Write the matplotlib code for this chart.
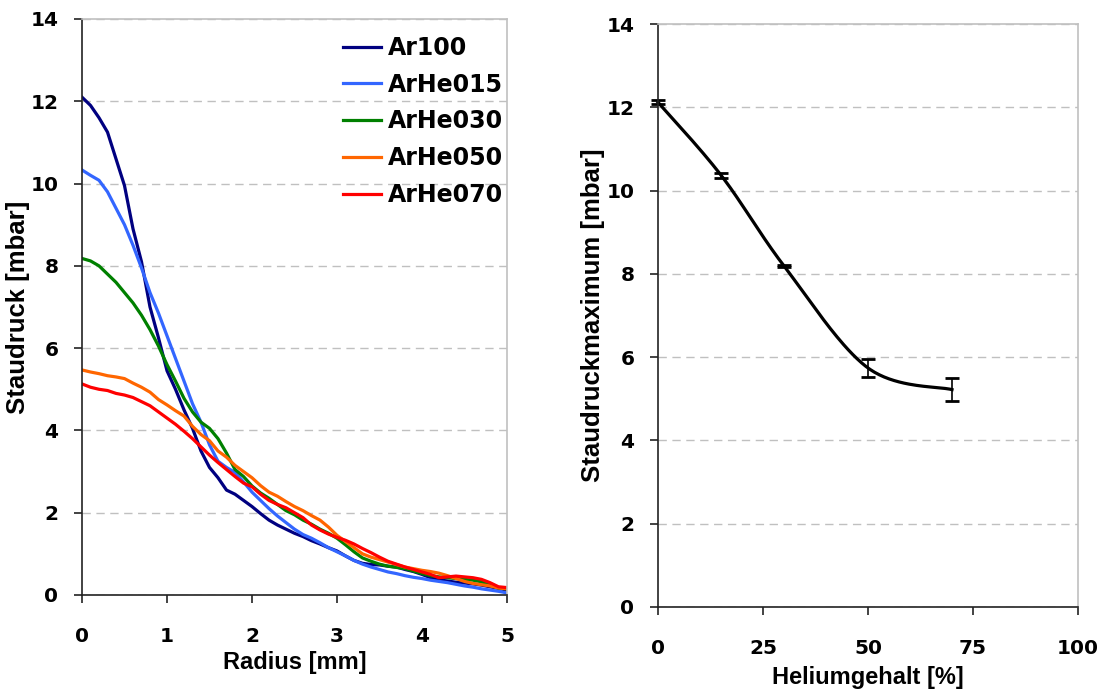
import numpy as np
import matplotlib as mpl
import matplotlib.pyplot as plt

mpl.rcParams['font.family'] = ['Liberation Sans', 'DejaVu Sans']

# left panel: pressure profiles over radius
radius = np.round(np.arange(0, 5.01, 0.1), 1)
ar100 = [12.1, 11.9, 11.6, 11.25, 10.6, 9.95, 8.9, 8.1, 7.0, 6.25,
         5.45, 5.0, 4.5, 4.05, 3.5, 3.1, 2.85, 2.55, 2.45, 2.3,
         2.15, 1.98, 1.82, 1.7, 1.6, 1.5, 1.42, 1.32, 1.24, 1.15,
         1.07, 0.95, 0.84, 0.77, 0.74, 0.73, 0.7, 0.68, 0.62, 0.57,
         0.5, 0.42, 0.37, 0.34, 0.31, 0.29, 0.27, 0.24, 0.2, 0.16, 0.12]
arhe015 = [10.33, 10.2, 10.08, 9.8, 9.4, 9.0, 8.5, 7.95, 7.35, 6.85,
           6.3, 5.75, 5.2, 4.65, 4.2, 3.65, 3.25, 3.1, 2.98, 2.75,
           2.5, 2.3, 2.1, 1.92, 1.76, 1.6, 1.47, 1.38, 1.27, 1.15,
           1.05, 0.95, 0.84, 0.75, 0.68, 0.62, 0.56, 0.52, 0.47, 0.43,
           0.4, 0.36, 0.33, 0.3, 0.26, 0.22, 0.19, 0.15, 0.12, 0.09, 0.05]
arhe030 = [8.18, 8.12, 8.0, 7.8, 7.6, 7.35, 7.1, 6.8, 6.45, 6.05,
           5.6, 5.2, 4.78, 4.45, 4.2, 4.05, 3.8, 3.45, 3.05, 2.88,
           2.65, 2.48, 2.35, 2.2, 2.05, 1.95, 1.82, 1.72, 1.6, 1.5,
           1.38, 1.22, 1.05, 0.9, 0.82, 0.75, 0.7, 0.67, 0.64, 0.58,
           0.52, 0.47, 0.44, 0.42, 0.4, 0.38, 0.36, 0.32, 0.25, 0.17, 0.15]
arhe050 = [5.47, 5.42, 5.38, 5.33, 5.3, 5.26, 5.15, 5.05, 4.93, 4.75,
           4.62, 4.48, 4.35, 4.1, 3.9, 3.75, 3.5, 3.35, 3.15, 3.0,
           2.85, 2.66, 2.5, 2.4, 2.27, 2.15, 2.05, 1.93, 1.82, 1.65,
           1.45, 1.3, 1.15, 1.0, 0.92, 0.86, 0.8, 0.74, 0.68, 0.64,
           0.6, 0.57, 0.53, 0.47, 0.4, 0.33, 0.28, 0.25, 0.22, 0.17, 0.15]
arhe070 = [5.13, 5.05, 5.0, 4.97, 4.9, 4.86, 4.8, 4.7, 4.6, 4.45,
           4.3, 4.15, 3.98, 3.8, 3.6, 3.4, 3.22, 3.05, 2.88, 2.72,
           2.63, 2.45, 2.3, 2.2, 2.12, 2.0, 1.88, 1.7, 1.58, 1.48,
           1.4, 1.33, 1.24, 1.13, 1.03, 0.92, 0.82, 0.75, 0.68, 0.62,
           0.56, 0.5, 0.42, 0.44, 0.46, 0.44, 0.42, 0.38, 0.3, 0.2, 0.18]
series_names = ['Ar100', 'ArHe015', 'ArHe030', 'ArHe050', 'ArHe070']
series_colors = ['#000080', '#3366FF', '#008000', '#FF6600', '#FF0000']

# right panel: maximum pressure vs helium content
helium = [0, 15, 30, 50, 70]
p_max = [12.12, 10.37, 8.19, 5.74, 5.22]
p_err = [0.05, 0.06, 0.02, 0.21, 0.27]

xlabel_font = dict(family=['Liberation Sans Narrow', 'Liberation Sans'],
                   weight='bold', size=17)
ylabel_font = dict(family=['Liberation Sans Narrow', 'Liberation Sans'],
                   weight='bold', size=18.5)
tick_font = dict(family='DejaVu Sans', weight='bold', size=14.5)
legend_font = dict(family='DejaVu Sans', weight='bold', size=17)


def smooth_line(x, y, sx, sy, n=40):
    # excel-style smoothed line (catmull-rom in screen-like units)
    p = np.column_stack([np.asarray(x, float) * sx, np.asarray(y, float) * sy])
    p = np.vstack([p[0], p, p[-1]])
    out = []
    for i in range(1, len(p) - 2):
        p0, p1, p2, p3 = p[i - 1], p[i], p[i + 1], p[i + 2]
        c1 = p1 + (p2 - p0) / 6
        c2 = p2 - (p3 - p1) / 6
        t = np.linspace(0, 1, n)[:, None]
        b = ((1 - t) ** 3 * p1 + 3 * (1 - t) ** 2 * t * c1
             + 3 * (1 - t) * t ** 2 * c2 + t ** 3 * p2)
        out.append(b if i == 1 else b[1:])
    out = np.vstack(out)
    return out[:, 0] / sx, out[:, 1] / sy


def style_axes(ax):
    ax.grid(axis='y', color='#c0c0c0', linestyle=(0, (6, 4)), linewidth=1)
    ax.set_axisbelow(True)
    for s in ['top', 'right']:
        ax.spines[s].set_color('#c0c0c0')
        ax.spines[s].set_linewidth(1.2)
    for s in ['left', 'bottom']:
        ax.spines[s].set_color('#222222')
        ax.spines[s].set_linewidth(1.2)
    ax.tick_params(direction='out', length=6, width=1.2, color='#222222')
    ax.tick_params(axis='x', pad=17)
    ax.tick_params(axis='y', pad=11)
    fp = mpl.font_manager.FontProperties(**tick_font)
    for lab in ax.get_xticklabels() + ax.get_yticklabels():
        lab.set_fontproperties(fp)


fig = plt.figure(figsize=(11.04, 6.89), dpi=100)
W, H = 1104, 689
ax1 = fig.add_axes([82 / W, 1 - 595 / H, 425 / W, 576 / H])
ax2 = fig.add_axes([658 / W, 1 - 607 / H, 420 / W, 583 / H])

for vals, name, col in zip([ar100, arhe015, arhe030, arhe050, arhe070],
                           series_names, series_colors):
    ax1.plot(radius, vals, color=col, lw=2.3, label=name,
             solid_joinstyle='round')
ax1.set_xlim(0, 5)
ax1.set_ylim(0, 14)
ax1.set_xticks(range(0, 6))
ax1.set_yticks(range(0, 15, 2))
style_axes(ax1)
ax1.set_xlabel('Radius [mm]', labelpad=4, **xlabel_font)
ax1.set_ylabel('Staudruck [mbar]', labelpad=0, **ylabel_font)
leg = ax1.legend(loc='upper right', frameon=False, prop=legend_font,
                 handlelength=1.6, handletextpad=0.3, labelspacing=0.54,
                 borderpad=0.15, bbox_to_anchor=(1.0, 0.977),
                 borderaxespad=0)

sx, sy = 4.2, 41.64
xs, ys = smooth_line(helium, p_max, sx, sy)
ax2.plot(xs, ys, color='black', lw=2.3, clip_on=False)
eb = ax2.errorbar(helium, p_max, yerr=p_err, fmt='none', ecolor='black',
                  elinewidth=1.2, capsize=5, capthick=2)
for art in eb.lines[1] + eb.lines[2]:
    art.set_clip_on(False)
ax2.set_xlim(0, 100)
ax2.set_ylim(0, 14)
ax2.set_xticks(range(0, 101, 25))
ax2.set_yticks(range(0, 15, 2))
style_axes(ax2)
ax2.set_xlabel('Heliumgehalt [%]', labelpad=6, **xlabel_font)
ax2.set_ylabel('Staudruckmaximum [mbar]', labelpad=1, **ylabel_font)

fig.savefig('out.png', dpi=100)
